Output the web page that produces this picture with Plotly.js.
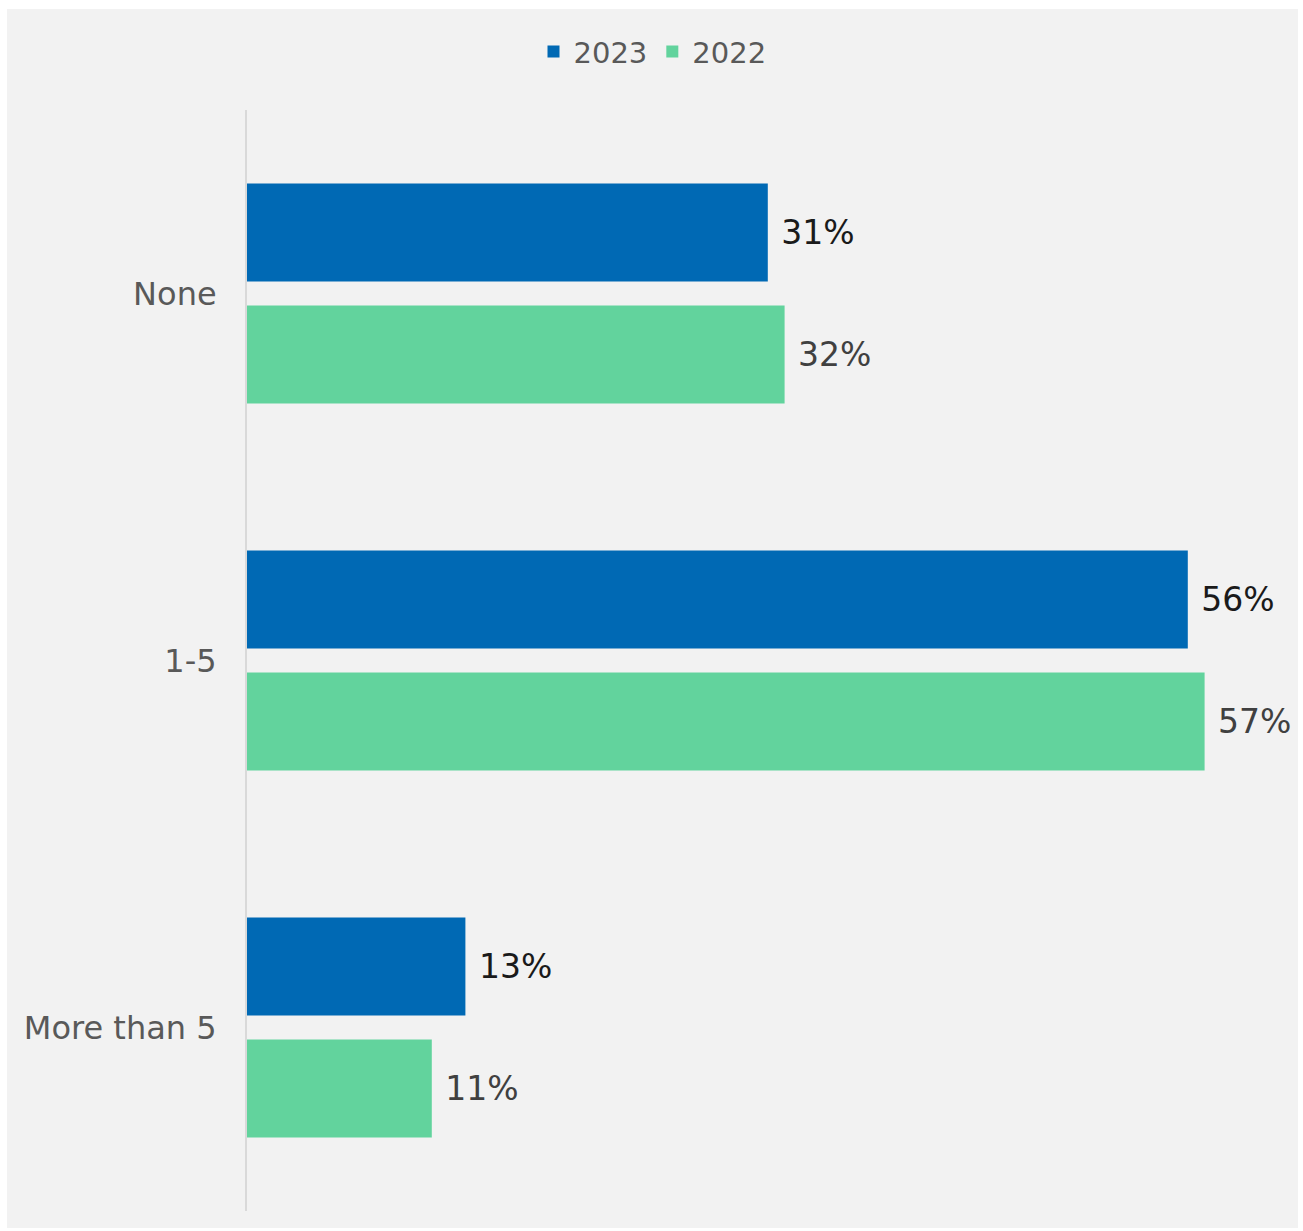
<!DOCTYPE html>
<html>
<head>
<meta charset="utf-8">
<script src="https://cdn.plot.ly/plotly-3.0.1.min.js"></script>
<style>
html,body{margin:0;padding:0;background:#ffffff;}
#chart{position:absolute;left:7px;top:9px;width:1291px;height:1219px;}
</style>
</head>
<body>
<div id="chart"></div>
<script>
const categories = ["None", "1-5", "More than 5"];
const values2023 = [31, 56, 13];
const values2022 = [32, 57, 11];
const seriesNames = ["2023", "2022"];

const font = "DejaVu Sans, sans-serif";

const traces = [
  {
    type: "bar", orientation: "h", name: seriesNames[0],
    y: categories, x: values2023,
    marker: {color: "#0069b4"},
    texttemplate: " %{x}%", textposition: "outside", cliponaxis: false,
    textfont: {family: font, size: 33, color: "#1a1a1a"},
    hoverinfo: "skip"
  },
  {
    type: "bar", orientation: "h", name: seriesNames[1],
    y: categories, x: values2022,
    marker: {color: "#62d39d"},
    texttemplate: " %{x}%", textposition: "outside", cliponaxis: false,
    textfont: {family: font, size: 33, color: "#404040"},
    hoverinfo: "skip"
  }
];

const layout = {
  width: 1291, height: 1219,
  paper_bgcolor: "#f2f2f2", plot_bgcolor: "#f2f2f2",
  margin: {l: 240, r: 43, t: 101, b: 17},
  barmode: "group", bargap: 0.335, bargroupgap: 0.197,
  showlegend: true,
  legend: {
    orientation: "h", xref: "container", yref: "container",
    x: 0.5, xanchor: "center", y: 0.965, yanchor: "middle",
    font: {family: font, size: 29, color: "#595959"},
    bgcolor: "rgba(0,0,0,0)", traceorder: "normal"
  },
  xaxis: {
    range: [0, 60], showgrid: false, zeroline: false, showticklabels: false,
    showline: false, ticks: ""
  },
  yaxis: {
    autorange: "reversed", showgrid: false, zeroline: false,
    showline: true, linecolor: "#d9d9d9", linewidth: 2,
    ticks: "", ticklabelstandoff: 22,
    tickfont: {family: font, size: 32, color: "#595959"}
  },
  font: {family: font}
};

Plotly.newPlot("chart", traces, layout, {displayModeBar: false, staticPlot: true});
</script>
</body>
</html>
